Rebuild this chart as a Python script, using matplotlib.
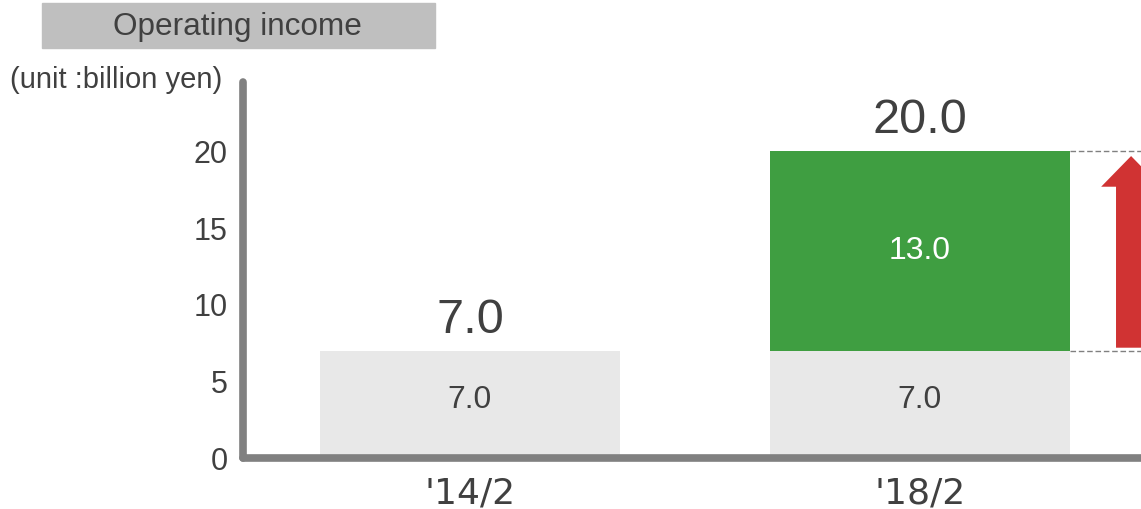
import matplotlib.pyplot as plt
from matplotlib.patches import FancyArrow, Rectangle

plt.rcParams["font.family"] = ["Liberation Sans", "DejaVu Sans"]

categories = ["'14/2", "'18/2"]
base = [7.0, 7.0]
increase = [0.0, 13.0]
totals = [7.0, 20.0]
yticks = [0, 5, 10, 15, 20]

TEXT = "#404040"
AXIS = "#808080"
LIGHT = "#e8e8e8"
GREEN = "#3f9e41"
RED = "#d03333"

fig = plt.figure(figsize=(11.41, 5.09), dpi=100)
ax = fig.add_axes([0.213, 0.100, 0.787, 0.738])

x = list(range(len(categories)))
w = 0.667
ax.bar(x, base, width=w, color=LIGHT, zorder=1)
ax.bar(x, increase, width=w, bottom=base, color=GREEN, zorder=1)

# segment labels
for xi, b in zip(x, base):
    ax.text(xi, b / 2 + 0.3, f"{b:.1f}", ha="center", va="center",
            fontsize=23, color=TEXT)
for xi, b, inc in zip(x, base, increase):
    if inc > 0:
        ax.text(xi, b + inc / 2, f"{inc:.1f}", ha="center", va="center",
                fontsize=23, color="white")
# totals
for xi, t in zip(x, totals):
    ax.annotate(f"{t:.1f}", (xi, t), xytext=(0, 13), textcoords="offset points",
                ha="center", va="baseline", fontsize=35, color=TEXT)

# dashed guides + arrow for the increase
right = x[-1] + w / 2
ax.plot([right, 1.6], [totals[-1], totals[-1]], ls=(0, (4, 2)), color=AXIS,
        lw=1, clip_on=False)
ax.plot([right, 1.6], [base[-1], base[-1]], ls=(0, (4, 2)), color=AXIS,
        lw=1, clip_on=False)
ax.add_patch(FancyArrow(1.469, base[-1] + 0.2, 0, increase[-1] - 0.5,
                        width=0.067, head_width=0.133, head_length=2.0,
                        length_includes_head=True, color=RED, lw=0,
                        clip_on=False))

ax.set_xlim(-0.504, 1.491)
ax.set_ylim(0, 24.5)
ax.set_yticks(yticks)
ax.set_yticklabels([str(v) for v in yticks], fontsize=22, color=TEXT)
ax.set_xticks(x)
ax.set_xticklabels(categories, fontsize=26, color=TEXT,
                   family=["Liberation Sans Narrow", "DejaVu Sans"])
ax.tick_params(axis="both", length=0)
ax.tick_params(axis="y", pad=11)
ax.tick_params(axis="x", pad=13)

for side in ["top", "right"]:
    ax.spines[side].set_visible(False)
for side in ["left", "bottom"]:
    ax.spines[side].set_color(AXIS)
    ax.spines[side].set_linewidth(5.5)
    ax.spines[side].set_capstyle("round")
    ax.spines[side].set_zorder(3)

# title box and unit
fig.patches.append(Rectangle((0.0368, 0.9057), 0.3444, 0.0884,
                             transform=fig.transFigure, color="#bfbfbf"))
fig.text(0.2085, 0.946, "Operating income", ha="center", va="center",
         fontsize=22.7, color=TEXT)
fig.text(0.009, 0.843, "(unit :billion yen)", ha="left", va="center",
         fontsize=21, color=TEXT)

plt.savefig("out.png", dpi=100)
plt.close(fig)
